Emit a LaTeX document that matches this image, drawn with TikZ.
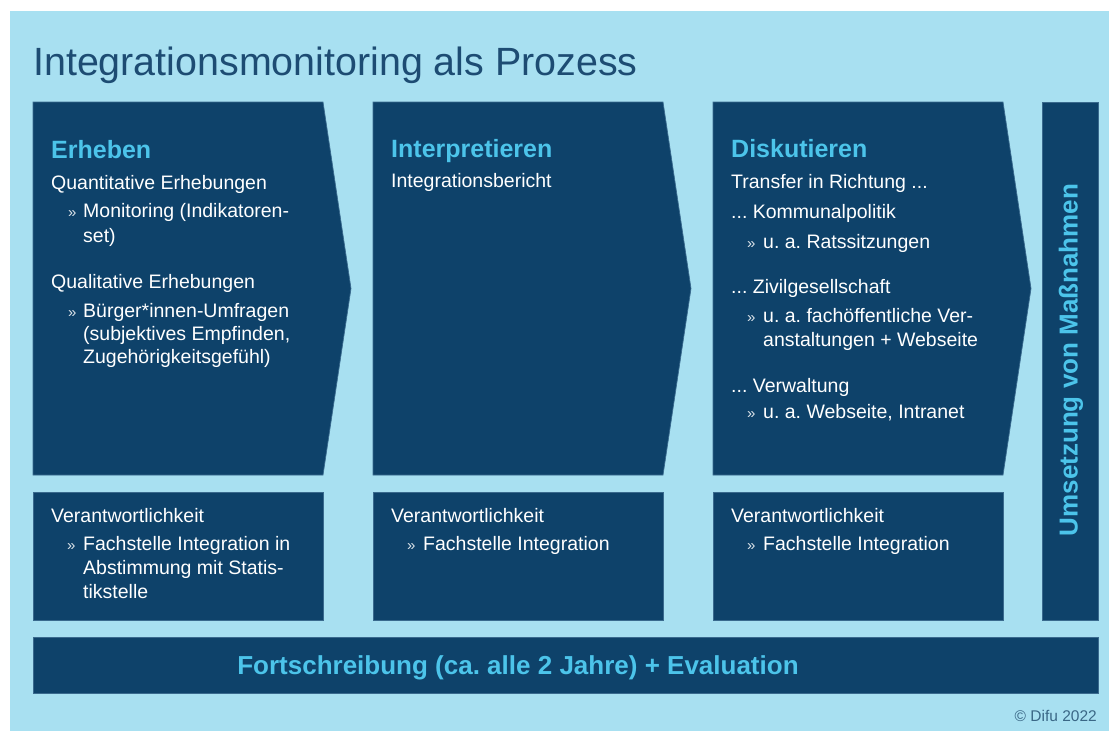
\documentclass[tikz,border=0pt]{standalone}
\usepackage{fontspec}
\setmainfont{Liberation Sans}
\frenchspacing
\definecolor{navy}{HTML}{0E426A}
\definecolor{navyedge}{HTML}{3A6A8E}
\definecolor{skyback}{HTML}{A8E0F1}
\definecolor{cyanhead}{HTML}{4CC4EA}
\definecolor{titleblue}{HTML}{1D4C73}
\definecolor{creditgray}{HTML}{3A6786}
\tikzset{
  panel/.style={fill=navy, draw=navyedge, line width=0.7pt},
  body/.style={anchor=base west, inner sep=0pt, text=white,
    font=\fontsize{19.5}{24}\selectfont},
  bulletmark/.style={anchor=base west, inner sep=0pt, text=white!85!navy,
    font=\fontsize{15}{18}\selectfont},
  heading/.style={anchor=base west, inner sep=0pt, text=cyanhead,
    font=\fontsize{25}{30}\selectfont\bfseries},
  barlabel/.style={inner sep=0pt, text=cyanhead,
    font=\fontsize{26}{30}\selectfont\bfseries},
}
\begin{document}
\begin{tikzpicture}[x=1pt,y=-1pt]
  % page and light background
  \useasboundingbox (0,0) rectangle (1109,731);
  \fill[white] (0,0) rectangle (1109,731);
  \fill[skyback] (10,11) rectangle (1109,731);

  % title
  \node[anchor=base west, inner sep=0pt, text=titleblue,
        font=\fontsize{39.4}{44}\selectfont] (title) at (33,75)
        {Integrationsmonitoring als Prozess};

  % three arrow-shaped phase panels
  \foreach \dx in {0,340,680}{
    \draw[panel] (33+\dx,102) -- (323+\dx,102) -- (351+\dx,288.5)
                 -- (323+\dx,475) -- (33+\dx,475) -- cycle;
    \draw[panel] (33+\dx,492) rectangle (323+\dx,620);
  }
  % vertical bar and bottom bar
  \draw[panel] (1042,102) rectangle (1098,620);
  \draw[panel] (33,637) rectangle (1098,693);

  % column 1: Erheben
  \node[heading] (h1) at (51,158) {Erheben};
  \node[body] (a1) at (51,189) {Quantitative Erhebungen};
  \node[bulletmark] (a2b) at (68,217) {»};
  \node[body] (a2) at (83,217) {Monitoring (Indikatoren-};
  \node[body] (a3) at (83,242) {set)};
  \node[body] (a4) at (51,288) {Qualitative Erhebungen};
  \node[bulletmark] (a5b) at (68,317) {»};
  \node[body] (a5) at (83,317) {Bürger*innen-Umfragen};
  \node[body] (a6) at (83,340) {(subjektives Empfinden,};
  \node[body] (a7) at (83,363) {Zugehörigkeitsgefühl)};

  % column 2: Interpretieren
  \node[heading] (h2) at (391,157) {Interpretieren};
  \node[body] (b1) at (391,187) {Integrationsbericht};

  % column 3: Diskutieren
  \node[heading] (h3) at (731,157) {Diskutieren};
  \node[body] (c1) at (731,188) {Transfer in Richtung ...};
  \node[body] (c2) at (731,218) {... Kommunalpolitik};
  \node[bulletmark] (c3b) at (747,248) {»};
  \node[body] (c3) at (763,248) {u. a. Ratssitzungen};
  \node[body] (c4) at (731,293) {... Zivilgesellschaft};
  \node[bulletmark] (c5b) at (747,322) {»};
  \node[body] (c5) at (763,322) {u. a. fachöffentliche Ver-};
  \node[body] (c6) at (763,346) {anstaltungen + Webseite};
  \node[body] (c7) at (731,392) {... Verwaltung};
  \node[bulletmark] (c8b) at (747,418) {»};
  \node[body] (c8) at (763,418) {u. a. Webseite, Intranet};

  % responsibility panels
  \node[body] (r1) at (51,522) {Verantwortlichkeit};
  \node[bulletmark] (r1b) at (67,550) {»};
  \node[body] (r2) at (83,550) {Fachstelle Integration in};
  \node[body] (r3) at (83,574) {Abstimmung mit Statis-};
  \node[body] (r4) at (83,598) {tikstelle};

  \node[body] (s1) at (391,522) {Verantwortlichkeit};
  \node[bulletmark] (s1b) at (407,550) {»};
  \node[body] (s2) at (423,550) {Fachstelle Integration};

  \node[body] (t1) at (731,522) {Verantwortlichkeit};
  \node[bulletmark] (t1b) at (747,550) {»};
  \node[body] (t2) at (763,550) {Fachstelle Integration};

  % vertical bar label
  \node[barlabel, rotate=90] (umsetzung) at (1071,360)
        {Umsetzung von Maßnahmen};

  % bottom bar label
  \node[barlabel, anchor=base] (fort) at (518,674)
        {Fortschreibung (ca. alle 2 Jahre) + Evaluation};

  % credit
  \node[anchor=base east, inner sep=0pt, text=creditgray,
        font=\fontsize{15.5}{18}\selectfont] (credit) at (1097,721)
        {© Difu 2022};
\end{tikzpicture}
\end{document}
